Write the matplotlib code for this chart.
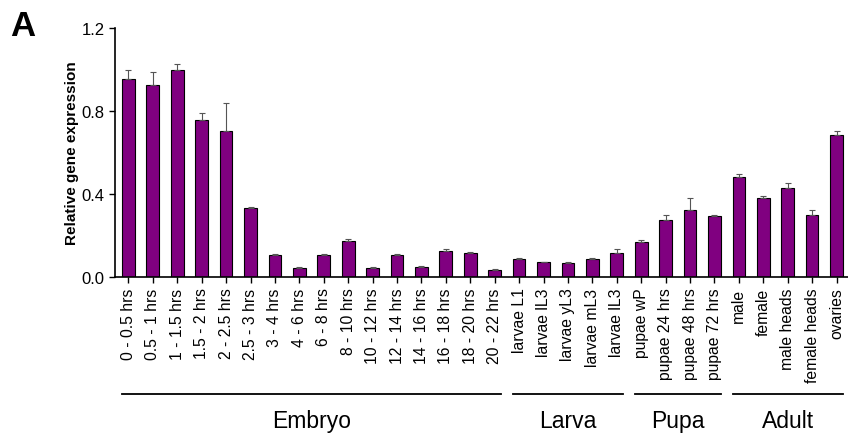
import matplotlib.pyplot as plt
import matplotlib.transforms as mtransforms
import numpy as np

plt.rcParams['font.family'] = ['Liberation Sans', 'DejaVu Sans']

stages = ['0 - 0.5 hrs', '0.5 - 1 hrs', '1 - 1.5 hrs', '1.5 - 2 hrs', '2 - 2.5 hrs',
          '2.5 - 3 hrs', '3 - 4 hrs', '4 - 6 hrs', '6 - 8 hrs', '8 - 10 hrs',
          '10 - 12 hrs', '12 - 14 hrs', '14 - 16 hrs', '16 - 18 hrs', '18 - 20 hrs',
          '20 - 22 hrs',
          'larvae L1', 'larvae lL3', 'larvae yL3', 'larvae mL3', 'larvae lL3',
          'pupae wP', 'pupae 24 hrs', 'pupae 48 hrs', 'pupae 72 hrs',
          'male', 'female', 'male heads', 'female heads', 'ovaries']
expression = np.array([0.955, 0.925, 1.0, 0.755, 0.705, 0.335, 0.105, 0.045, 0.105, 0.175,
                       0.045, 0.105, 0.05, 0.125, 0.115, 0.035,
                       0.085, 0.07, 0.065, 0.085, 0.115,
                       0.17, 0.275, 0.325, 0.295,
                       0.48, 0.38, 0.43, 0.30, 0.685])
sem = np.array([0.045, 0.065, 0.025, 0.035, 0.135, 0.003, 0.005, 0.005, 0.004, 0.006,
                0.004, 0.004, 0.003, 0.012, 0.006, 0.005,
                0.005, 0.003, 0.006, 0.005, 0.02,
                0.01, 0.025, 0.055, 0.005,
                0.017, 0.01, 0.025, 0.025, 0.02])

# developmental groups: name, first index, last index
groups = [('Embryo', 0, 15), ('Larva', 16, 20), ('Pupa', 21, 24), ('Adult', 25, 29)]

fig = plt.figure(figsize=(8.48, 4.35), dpi=100)
ax = fig.add_axes([0.1356, 0.361, 0.8644, 0.572])

x = np.arange(len(stages))
ax.bar(x, expression, 0.52, color='#800080', edgecolor='black', linewidth=0.8,
       yerr=[np.zeros_like(sem), sem], capsize=2.5,
       error_kw=dict(ecolor='#555555', elinewidth=0.8, capthick=0.8))

ax.set_xlim(-0.55, len(stages) - 0.53)
ax.set_ylim(0, 1.2)
ax.set_yticks([0.0, 0.4, 0.8, 1.2])
ax.set_yticklabels(['0.0', '0.4', '0.8', '1.2'], fontsize=12)
ax.set_xticks(x)
ax.set_xticklabels(stages, rotation=90, fontsize=11.3)
ax.tick_params(axis='both', direction='out', length=4, width=1)
ax.spines['top'].set_visible(False)
ax.spines['right'].set_visible(False)
ax.spines['left'].set_linewidth(1.2)
ax.spines['bottom'].set_linewidth(1.2)
ax.set_ylabel('Relative gene expression', fontsize=11, fontweight='bold', labelpad=2)

# group brackets below the tick labels
trans = mtransforms.blended_transform_factory(ax.transData, ax.transAxes)
for name, i0, i1 in groups:
    ax.plot([i0 - 0.25, i1 + 0.25], [-0.47, -0.47], color='black', lw=1.3,
            transform=trans, clip_on=False)
    ax.text((i0 + i1) / 2, -0.575, name, transform=trans, ha='center', va='center',
            fontsize=16.5)

fig.text(0.012, 0.94, 'A', fontsize=25, fontweight='bold', ha='left', va='center')

plt.savefig('out.png', dpi=100)
